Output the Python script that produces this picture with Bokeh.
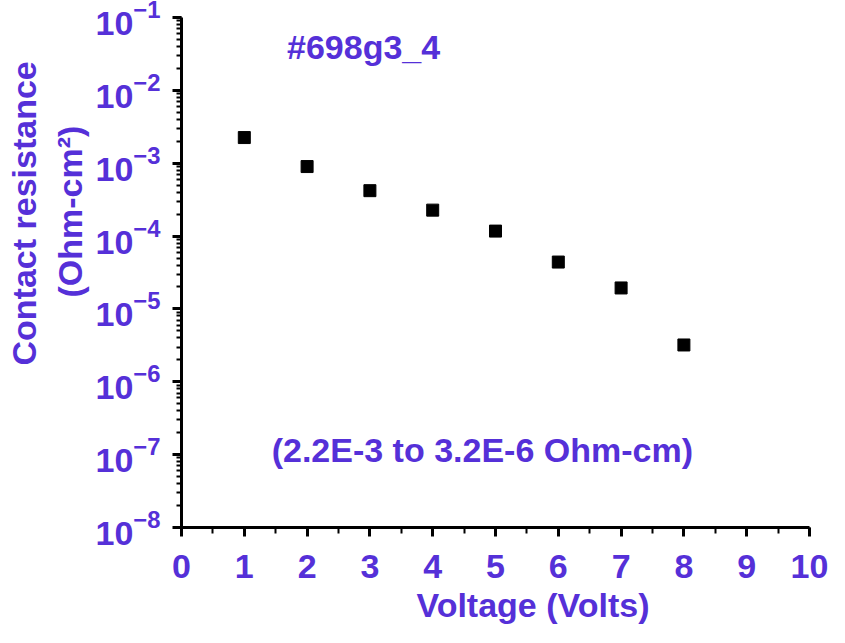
from bokeh.plotting import figure
from bokeh.models import Label, SingleIntervalTicker, LogTicker, Range1d, Title
from bokeh.embed import file_html
from bokeh.resources import INLINE

voltage = [1, 2, 3, 4, 5, 6, 7, 8]
resistance = [2.25e-3, 9.0e-4, 4.2e-4, 2.27e-4, 1.17e-4, 4.4e-5, 1.94e-5, 3.2e-6]

sample_title = "#698g3_4"
range_note = "(2.2E-3 to 3.2E-6 Ohm-cm)"
x_label = "Voltage (Volts)"
y_label_1 = "Contact resistance"
y_label_2 = "(Ohm-cm\u00b2)"

PURPLE = "#5530d8"
FONT = "Liberation Sans"

p = figure(width=829, height=627, output_backend="svg", toolbar_location=None,
           y_axis_type="log", x_range=Range1d(0, 10), y_range=Range1d(1e-8, 1e-1),
           min_border_left=178, min_border_right=20, min_border_top=17, min_border_bottom=100)
p.outline_line_color = None
p.grid.visible = False
p.background_fill_color = "white"
p.border_fill_color = "white"

p.scatter(voltage, resistance, marker="square", size=12, color="black")

xa = p.xaxis[0]
xa.ticker = SingleIntervalTicker(interval=1, num_minor_ticks=2)
ya = p.yaxis[0]
ya.ticker = LogTicker(num_minor_ticks=10)

for ax in (xa, ya):
    ax.axis_line_width = 3
    ax.axis_line_color = "black"
    ax.major_tick_line_width = 3
    ax.major_tick_line_color = "black"
    ax.minor_tick_line_width = 2
    ax.minor_tick_line_color = "black"
    ax.major_tick_in = 0
    ax.minor_tick_in = 0
    ax.major_label_text_font = FONT
    ax.major_label_text_font_style = "bold"
    ax.major_label_text_font_size = "34px"
    ax.major_label_text_color = PURPLE

xa.major_tick_out = 9
xa.minor_tick_out = 6
xa.major_label_standoff = 18
ya.major_tick_out = 9
ya.minor_tick_out = 5
ya.major_label_standoff = 12
ya.major_label_text_line_height = 1.8


def add_label(x, y, text):
    p.add_layout(Label(x=x, y=y, text=text,
                       text_align="center", text_baseline="middle",
                       text_font=FONT, text_font_style="bold",
                       text_font_size="34px", text_color=PURPLE))


add_label(2.9, 10 ** -1.41, sample_title)
add_label(4.79, 10 ** -6.94, range_note)


def add_title(text, side, offset, standoff):
    t = Title(text=text, align="left", offset=offset, standoff=standoff,
              text_font=FONT, text_font_style="bold", text_font_size="34px",
              text_color=PURPLE)
    p.add_layout(t, side)


add_title(y_label_2, "left", 230, 8)
add_title(y_label_1, "left", 162, 4)
add_title(x_label, "below", 235, 6)

open("out.html", "w").write(file_html(p, INLINE))
